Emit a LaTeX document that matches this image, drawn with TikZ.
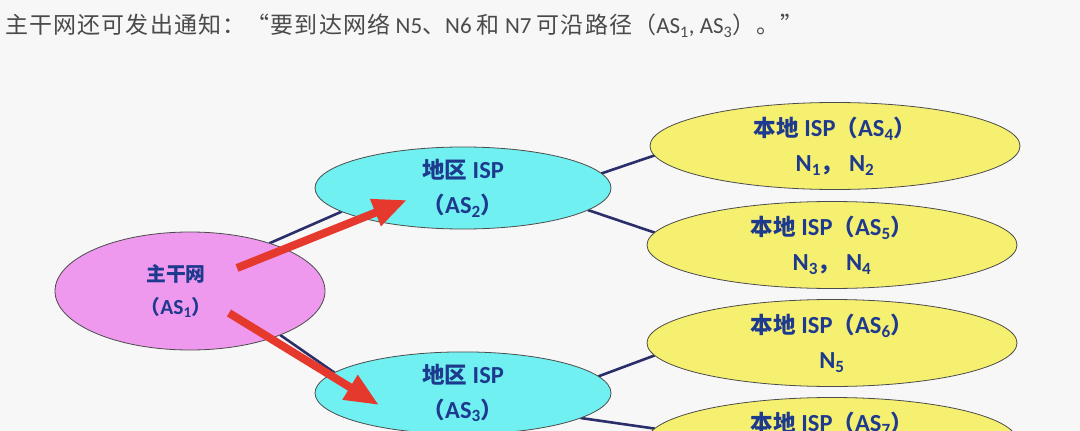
\documentclass[tikz,border=0pt]{standalone}
\usepackage{fontspec}
\setmainfont{Carlito}
\newfontfamily\cjk[Scale=0.92]{Noto Sans CJK SC}
\newfontfamily\cjktop[LetterSpace=5]{Noto Sans CJK SC}
\usetikzlibrary{shapes.geometric,arrows.meta,calc,backgrounds}
\definecolor{bgc}{HTML}{F7F7F7}
\definecolor{txtc}{HTML}{1E3A8E}
\definecolor{topc}{HTML}{4A4A4A}
\definecolor{linkc}{HTML}{2A2E6A}
\definecolor{redc}{HTML}{E5392E}
\definecolor{pinkc}{HTML}{EE99EE}
\definecolor{cyanc}{HTML}{70F0F0}
\definecolor{yelc}{HTML}{F6F070}
\newcommand\zh[1]{{\cjk #1}}
\newcommand\zt[1]{{\cjktop #1}}
\newcommand\sbs[1]{\textsubscript{#1}}
\begin{document}
\begin{tikzpicture}[x=1pt,y=-1pt,
  asnode/.style={ellipse, draw=black!70, line width=0.8pt, inner sep=0pt, outer sep=0pt,
    font=\bfseries\fontsize{24.5}{35}\selectfont, text=txtc, align=center},
  bbone/.style={asnode, fill=pinkc, minimum width=270pt, minimum height=118pt,
    font=\bfseries\fontsize{21.5}{33}\selectfont},
  region/.style={asnode, fill=cyanc, minimum width=296pt, minimum height=71pt},
  local/.style={asnode, fill=yelc, minimum width=370pt, minimum height=87pt},
  link/.style={draw=linkc, line width=2.6pt},
  push/.style={draw=redc, line width=8pt, -{Triangle[length=34pt,width=27pt]}}]
\useasboundingbox (0,0) rectangle (1080,431);
\clip (0,0) rectangle (1080,431);

\node[anchor=base west, text=topc, font=\fontsize{23}{26}\selectfont, inner sep=0pt] (title) at (5,34)
  {\zt{主干网还可发出通知：“要到达网络} N5\zt{、}N6 \zt{和} N7 \zt{可沿路径（}AS\sbs{1}, AS\sbs{3}\zt{）。”}};

\node[bbone] (as1) at (190,291) {};
\node[font=\bfseries\fontsize{21.5}{33}\selectfont, text=txtc, align=center, inner sep=0pt] (as1t) at (176,291)
  {\zh{主干网}\\\zh{（}AS\sbs{1}\zh{）}};
\node[region] (as2) at (463,188) {\zh{地区} ISP\\\zh{（}AS\sbs{2}\zh{）}};
\node[region] (as3) at (463,393) {\zh{地区} ISP\\\zh{（}AS\sbs{3}\zh{）}};
\node[local] (as4) at (835,146) {\zh{本地} ISP\zh{（}AS\sbs{4}\zh{）}\\N\sbs{1}\zh{，} N\sbs{2}};
\node[local] (as5) at (832,245) {\zh{本地} ISP\zh{（}AS\sbs{5}\zh{）}\\N\sbs{3}\zh{，} N\sbs{4}};
\node[local] (as6) at (832,343) {\zh{本地} ISP\zh{（}AS\sbs{6}\zh{）}\\N\sbs{5}};
\node[local] (as7) at (832,441) {};
\node[font=\bfseries\fontsize{24.5}{35}\selectfont, text=txtc, inner sep=0pt] (as7t) at (832,424)
  {\zh{本地} ISP\zh{（}AS\sbs{7}\zh{）}};

\begin{scope}[on background layer]
  \fill[bgc] (0,0) rectangle (1080,431);
  \draw[link] (as1.31) -- (as2.191);
  \draw[link] (as1.-26) -- (as3.171);
  \draw[link] (as2.6) -- (as4.183);
  \draw[link] (as2.-10) -- (as5.176);
  \draw[link] (as3.7) -- (as6.184);
  \draw[link] (as3.-12) -- (as7.176);
\end{scope}

\coordinate (t1) at ($(as1)+(47,-23)$);
\coordinate (h1) at ($(as2)+(-56,12)$);
\coordinate (t2) at ($(as1)+(39,22)$);
\coordinate (h2) at ($(as3)+(-84,12)$);
\draw[push] (t1) -- (h1);
\draw[push] (t2) -- (h2);
\end{tikzpicture}
\end{document}
